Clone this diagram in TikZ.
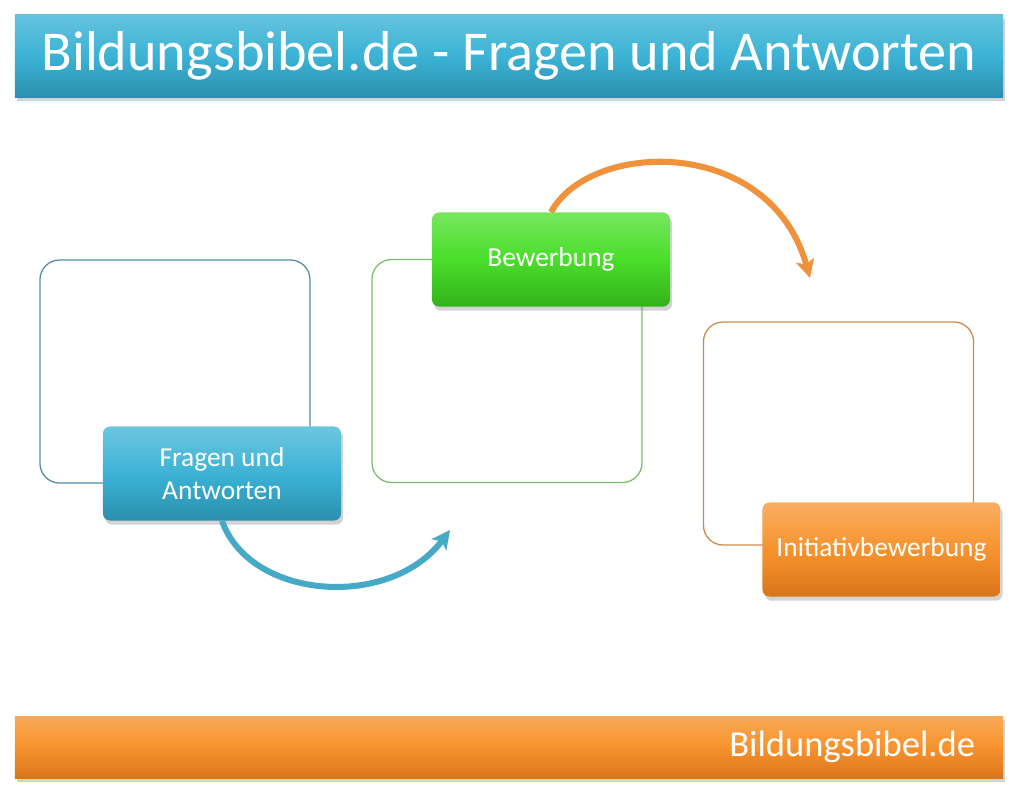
\documentclass[tikz,border=0pt]{standalone}
\usepackage{fontspec}
\setmainfont{Carlito}
\usetikzlibrary{arrows.meta, positioning, shadows}
\definecolor{bbteal}{HTML}{3CB3D5}
\definecolor{bbtealdark}{HTML}{2A8FAE}
\definecolor{bbtealline}{HTML}{4F8E9C}
\definecolor{bbgreen}{HTML}{4ADE2A}
\definecolor{bbgreendark}{HTML}{33B21A}
\definecolor{bbgreenline}{HTML}{76C062}
\definecolor{bborange}{HTML}{F7932E}
\definecolor{bborangedark}{HTML}{D9751A}
\definecolor{bborangeline}{HTML}{C98B4C}
\definecolor{bbarrowteal}{HTML}{46AAC6}
\definecolor{bbarroworange}{HTML}{F0923C}

\begin{document}
\begin{tikzpicture}[x=0.025cm, y=-0.025cm,
  frame/.style={rectangle, draw, line width=0.9pt, rounded corners=14pt, minimum width=6.75cm, minimum height=5.575cm},
  stage/.style={rectangle, rounded corners=5pt, minimum width=5.95cm, minimum height=2.35cm, align=center, text=white, font=\fontsize{19.5}{23}\selectfont, drop shadow={opacity=0.35, shadow xshift=1.5pt, shadow yshift=-3pt}},
  bar/.style={rectangle, minimum width=24.7cm, text=white, drop shadow={opacity=0.35, shadow xshift=1.5pt, shadow yshift=-3pt}},
  flow/.style={line width=4.3pt, -{Stealth[length=13pt, width=13pt, inset=3pt]}},
]
\useasboundingbox (0,0) rectangle (1024,809);

% Header and footer
\node[bar, minimum height=2.05cm, top color=bbteal!80!white, bottom color=bbtealdark, middle color=bbteal, font=\fontsize{40}{44}\selectfont] (title) at (509,56) {Bildungsbibel.de - Fragen und Antworten};
\node[bar, minimum height=1.55cm, top color=bborange!80!white, bottom color=bborangedark, middle color=bborange, inner xsep=0.7cm, text width=23.3cm, align=right, font=\fontsize{26}{30}\selectfont] (footer) at (509,747) {Bildungsbibel.de};

% Frames
\node[frame, draw=bbtealline] (frm1) at (175,371.5) {};
\node[frame, draw=bbgreenline] (frm2) at (507,371) {};
\node[frame, draw=bborangeline] (frm3) at (838.5,433.5) {};

% Stages
\node[stage, top color=bbteal!75!white, bottom color=bbtealdark, middle color=bbteal] (fragen) at (222,473.5) {Fragen und\\Antworten};
\node[stage, top color=bbgreen!75!white, bottom color=bbgreendark, middle color=bbgreen] (bewerbung) at (551,259.5) {Bewerbung};
\node[stage, top color=bborange!75!white, bottom color=bborangedark, middle color=bborange] (initiativ) at (881.5,549.5) {Initiativbewerbung};

% Arrows
\coordinate (tip1) at (450,530);
\coordinate (tip2) at (810,278);
\draw[flow, bbarrowteal] (fragen.south) .. controls (250,600) and (390,610) .. (tip1);
\draw[flow, bbarroworange] (bewerbung.north) .. controls (590,140) and (770,135) .. (tip2);

\end{tikzpicture}
\end{document}
